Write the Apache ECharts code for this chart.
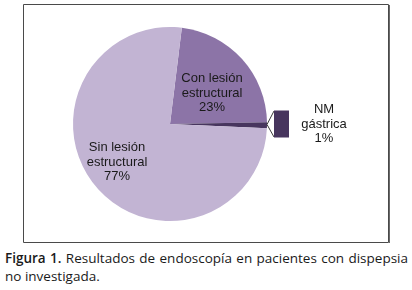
<!DOCTYPE html>
<html>
<head>
<meta charset="utf-8">
<script src="https://cdn.jsdelivr.net/npm/echarts@6/dist/echarts.min.js"></script>
<style>
  html, body { margin: 0; padding: 0; background: #fff; }
  #wrap { position: relative; width: 412px; height: 290px; overflow: hidden; }
  #chart { position: absolute; left: 0; top: 0; width: 412px; height: 248px; }
  #caption {
    position: absolute; left: 5px; top: 249px; width: 403px;
    font-family: "Open Sans", Lato, sans-serif; font-size: 13.5px; line-height: 18px;
    color: #1a1a1a;
  }
  #caption .l1 { text-align: justify; text-align-last: justify; white-space: nowrap; }
  #caption b { font-weight: 600; }
</style>
</head>
<body>
<div id="wrap">
  <div id="chart"></div>
  <div id="caption">
    <div class="l1"><b>Figura 1.</b> Resultados de endoscopía en pacientes con dispepsia</div>
    <div>no investigada.</div>
  </div>
</div>
<script>
// datos
var categories = ['Con lesión\nestructural', 'NM\ngástrica', 'Sin lesión\nestructural'];
var values = [23, 1, 77];
var colors = ['#8c74a7', '#47355e', '#c2b4d3'];

// geometria del pastel
var cx = 170, cy = 124, R = 97;
// posiciones de las etiquetas (centro del texto)
var labelPos = [[212, 93], [324, 124], [117, 162]];

var mcharts = echarts.init(document.getElementById('chart'));

var pieData = [];
categories.forEach(function (c, i) {
    pieData.push({ name: c, value: values[i], itemStyle: { color: colors[i] } });
});

var option = {
    animation: false,
    graphic: [
        // marco
        { type: 'rect', shape: { x: 23.5, y: 4.5, width: 365, height: 238 },
          style: { fill: 'none', stroke: '#4a4a4a', lineWidth: 1 }, z: 0 },
        { type: 'line', shape: { x1: 389.5, y1: 5, x2: 389.5, y2: 243 },
          style: { stroke: '#6a6a6a', lineWidth: 1 }, z: 0 },
        // cuña de la llamada para NM gastrica
        { type: 'polyline', shape: { points: [[cx + R + 7, cy - 13], [cx + R, cy + 0.5], [cx + R + 7, cy + 13]] },
          style: { fill: 'none', stroke: '#3a3a3a', lineWidth: 1 }, z: 5 },
        { type: 'rect', shape: { x: cx + R + 7, y: cy - 13.5, width: 15, height: 27 },
          style: { fill: colors[1], stroke: 'none' }, z: 5 }
    ],
    series: [
        {
            type: 'pie',
            center: [cx, cy],
            radius: [0, R],
            startAngle: 83,
            clockwise: true,
            data: pieData,
            itemStyle: { borderWidth: 0 },
            emphasis: { disabled: true },
            label: {
                show: true,
                position: 'inside',
                formatter: function (p) { return p.name + '\n' + p.value + '%'; },
                fontFamily: 'Liberation Sans, Arial, sans-serif',
                fontSize: 13,
                lineHeight: 14.5,
                color: '#1a1a1a',
                align: 'center'
            },
            labelLine: { show: false },
            labelLayout: function (params) {
                var p = labelPos[params.dataIndex];
                return { x: p[0], y: p[1], align: 'center', verticalAlign: 'middle' };
            }
        }
    ]
};

mcharts.setOption(option, true);
</script>
</body>
</html>
